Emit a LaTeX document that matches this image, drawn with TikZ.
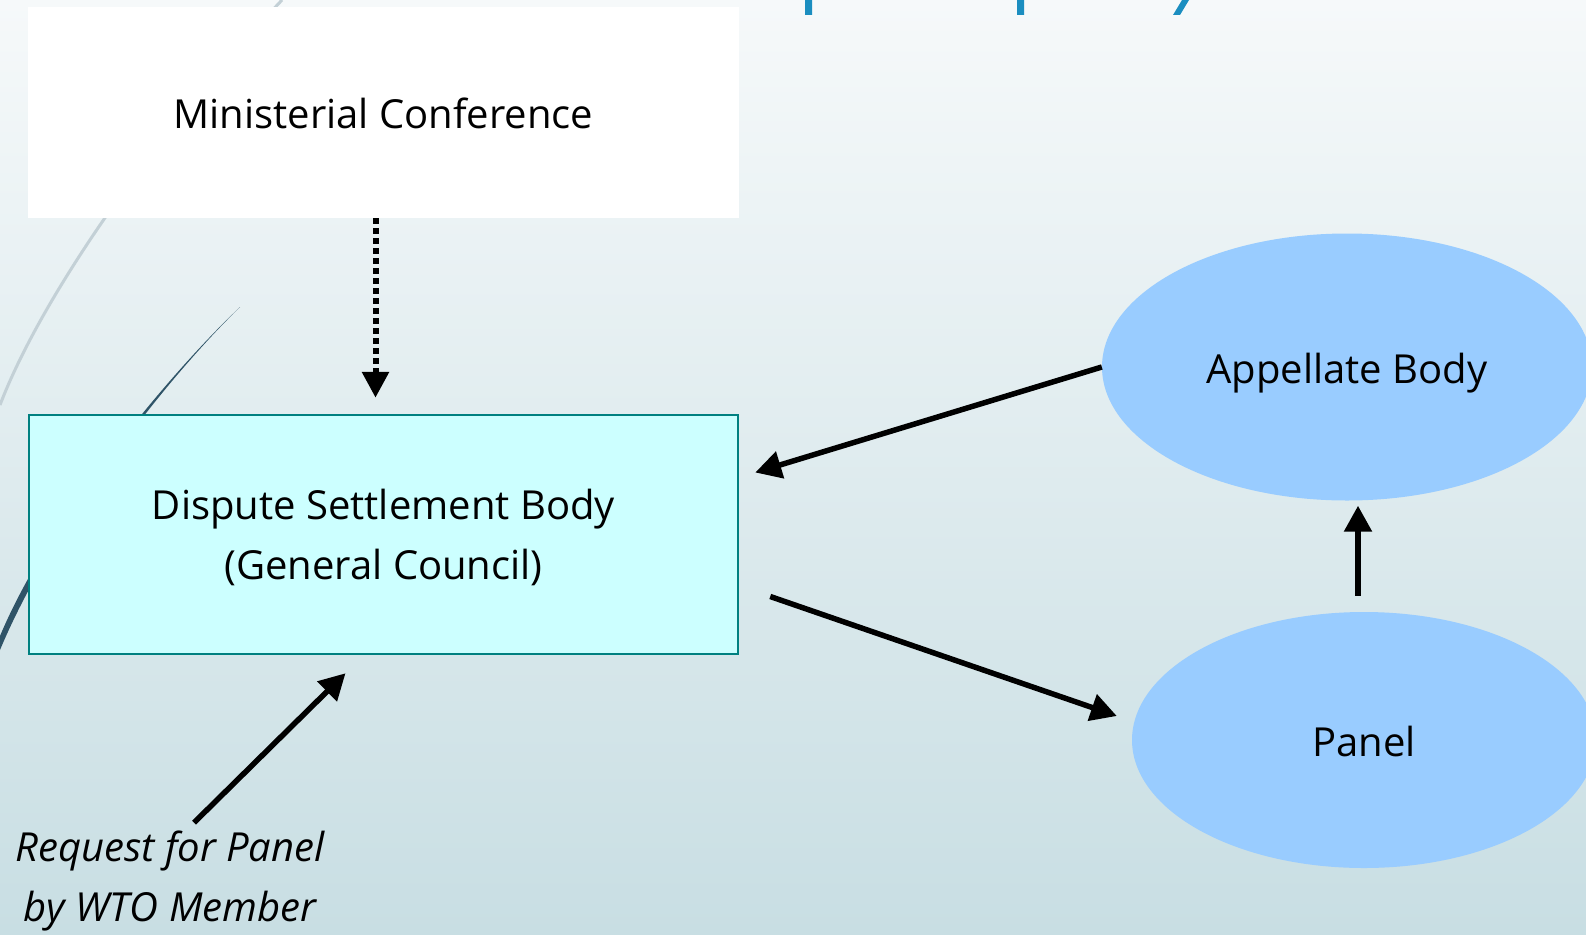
\documentclass[tikz,border=0pt]{standalone}
\usepackage{fontspec}
\setmainfont{Open Sans}
\usepackage{tikz}
\usetikzlibrary{arrows.meta,shapes.geometric,calc}
\definecolor{bgtop}{RGB}{246,249,250}
\definecolor{bgbot}{RGB}{200,222,227}
\definecolor{dsbfill}{RGB}{204,255,255}
\definecolor{dsbline}{RGB}{0,128,128}
\definecolor{bodyfill}{RGB}{153,204,255}
\definecolor{arcdark}{RGB}{47,84,104}
\definecolor{arclight}{RGB}{195,208,214}
\definecolor{titleblue}{RGB}{27,142,192}

\begin{document}
\begin{tikzpicture}[x=1pt,y=-1pt,every node/.style={font=\fontsize{40}{60}\selectfont,inner sep=0pt},
  oneline/.style={text height=32pt,text depth=0pt},
  arr/.style={line width=5.5pt,-{Triangle[length=26pt,width=27pt]}}]
\useasboundingbox (0,0) rectangle (1586,934);
\clip (0,0) rectangle (1586,934);
\shade[top color=bgtop,bottom color=bgbot] (0,0) rectangle (1586,934);
% swooshes and heading descenders
\draw[arclight,line width=3pt] (282,0) .. controls (150,140) and (40,300) .. (0,405);
\fill[arcdark] (240,307) .. controls (160,385) and (50,530) .. (0,650) -- (0,636) .. controls (46,526) and (158,385) .. (240,307);
\fill[titleblue] (805,0) rectangle (812,15) (1017,0) rectangle (1024,15);
\fill[titleblue] (1182,0) -- (1189,0) -- (1180,15) -- (1173,15) -- cycle;
\node[oneline,fill=white,minimum width=711pt,minimum height=211pt] (mc) at (383.5,112.5) {Ministerial Conference};
\node[draw=dsbline,line width=2.5pt,fill=dsbfill,minimum width=709pt,minimum height=239pt,align=center,text depth=0pt] (dsb) at (383.5,534.5) {Dispute Settlement Body\\(General Council)};
\node[oneline,ellipse,fill=bodyfill,minimum width=490pt,minimum height=267pt] (ab) at (1347,367) {Appellate Body};
\node[oneline,ellipse,fill=bodyfill,minimum width=464pt,minimum height=256pt] (pn) at (1364,740) {Panel};
\node[align=center,font=\fontsize{40}{60}\selectfont\itshape] (req) at (170,881) {Request for Panel\\by WTO Member};
\draw[line width=6pt,dash pattern=on 6pt off 4pt,-{Triangle[length=26pt,width=26pt]}] ([xshift=-8pt]mc.south) -- ([xshift=-8pt,yshift=16pt]dsb.north);
\draw[arr] (ab.west) -- ($(dsb.east)+(16,-62)$);
\draw[arr] ($(dsb.east)+(31,62)$) -- ($(pn.west)+(-15,-24)$);
\draw[arr,shorten >=5pt] ([xshift=-6pt,yshift=16pt]pn.north) -- ([xshift=-6pt]pn.north |- ab.south);
\draw[arr] ([xshift=24pt,yshift=8pt]req.north) -- ($(dsb.south)+(-38,18)$);
\end{tikzpicture}
\end{document}
